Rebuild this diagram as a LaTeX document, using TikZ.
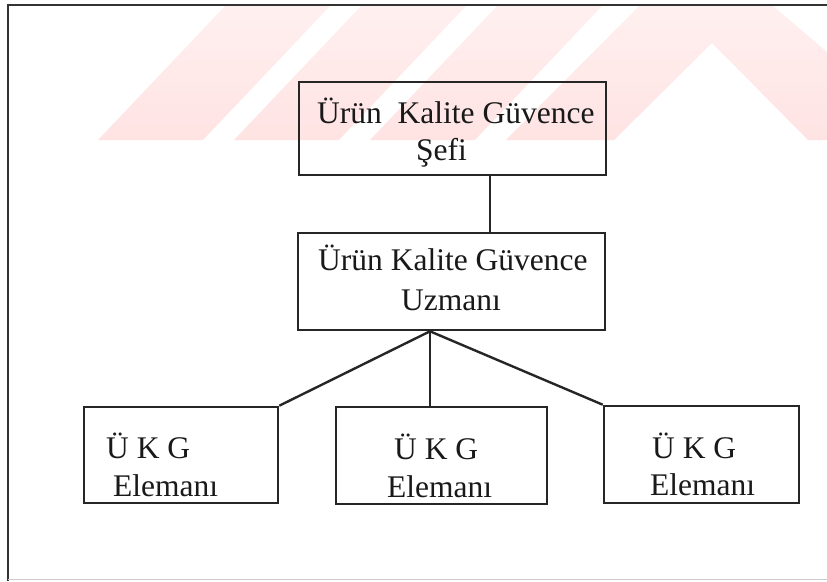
\documentclass[tikz,border=0pt]{standalone}
\usepackage{fontspec}
\setmainfont{Liberation Serif}
\usepackage{tikz}

\begin{document}
\begin{tikzpicture}[x=1pt,y=-1pt,
    kutu/.style={draw=black!85,line width=2.6pt,inner sep=0pt},
    yazi/.style={inner sep=0pt,anchor=base west,text=black!90,font=\fontsize{31.5}{38}\selectfont},
    hat/.style={draw=black!85,line width=2.4pt},
    iz/.style={top color=red!6,bottom color=red!11,draw=none}]
    \useasboundingbox (0,0) rectangle (827,581);
    % filigran
    \foreach \a in {98,234,370}
        \shade[iz] (\a,140) -- (\a+105,140) -- (\a+233,5) -- (\a+128,5) -- cycle;
    \shade[iz] (506,140) -- (640,5) -- (772,5) -- (827,52) -- (827,140) -- (808,140) -- (712,43) -- (614,140) -- cycle;
    % cerceve
    \draw[line width=2.4pt,black!80] (827,5) -- (8,5) -- (8,581);
    \draw[line width=1pt,black!20] (8,579) -- (827,579);

    \node[kutu,minimum width=307pt,minimum height=93pt] (sef) at (452.5,128.5) {};
    \node[kutu,minimum width=307pt,minimum height=97pt] (uzman) at (451.5,281.5) {};
    \node[kutu,minimum width=194pt,minimum height=96pt] (e1) at (181,455) {};
    \node[kutu,minimum width=211pt,minimum height=97pt] (e2) at (441.5,455.5) {};
    \node[kutu,minimum width=195pt,minimum height=97pt] (e3) at (701.5,454.5) {};

    \node[yazi] (sef1) at (317,123) {Ürün\ \ Kalite Güvence};
    \node[yazi] (sef2) at (416,160) {Şefi};
    \node[yazi] (uzman1) at (318,270) {Ürün Kalite Güvence};
    \node[yazi] (uzman2) at (401,310) {Uzmanı};
    \node[yazi] (e1a) at (106,458) {Ü K G};
    \node[yazi] (e1b) at (113,496) {Elemanı};
    \node[yazi] (e2a) at (394,459) {Ü K G};
    \node[yazi] (e2b) at (387,497) {Elemanı};
    \node[yazi] (e3a) at (652,458) {Ü K G};
    \node[yazi] (e3b) at (650,495) {Elemanı};

    \draw[hat] ([xshift=37.5pt]sef.south) -- ([xshift=38.5pt]uzman.north);
    \coordinate (dal) at ([xshift=-21.5pt]uzman.south);
    \draw[hat] (dal) -- (e1.north east);
    \draw[hat] (dal) -- (dal |- e2.north);
    \draw[hat] (dal) -- (e3.north west);
\end{tikzpicture}
\end{document}
